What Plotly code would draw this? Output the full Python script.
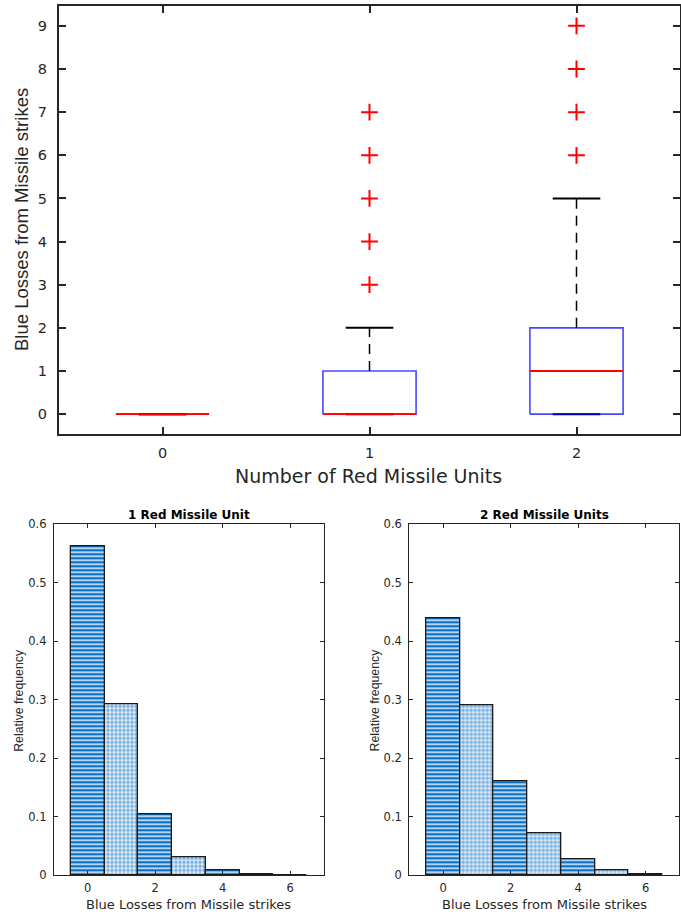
import plotly.graph_objects as go

# ---------------- data ----------------
groups = [0, 1, 2]
q1 = [0, 0, 0]
medians = [0, 0, 1]
q3 = [0, 1, 2]
lower_whisker = [0, 0, 0]
upper_whisker = [0, 2, 5]
outliers = {1: [3, 4, 5, 6, 7], 2: [6, 7, 8, 9]}

loss_bins = [0, 1, 2, 3, 4, 5, 6]
freq_1unit = [0.562, 0.293, 0.104, 0.030, 0.0085, 0.002, 0.0005]
freq_2units = [0.440, 0.290, 0.160, 0.071, 0.0267, 0.0085, 0.0022]

top_y_ticks = list(range(0, 10))
hist_x_ticks = [0, 2, 4, 6]
hist_y_ticks = [0, 0.1, 0.2, 0.3, 0.4, 0.5, 0.6]

# ---------------- style ----------------
W, H = 681, 915
BOX_W = 0.45
CAP_W = 0.23
AX = "#262626"
HFONT = "DejaVu Sans"
VFONT = "Liberation Sans"

fig = go.Figure()

# ---- boxplot drawn from the statistics ----
for g, lo, a, m, b, hi in zip(groups, lower_whisker, q1, medians, q3, upper_whisker):
    if hi > b:
        fig.add_trace(go.Scatter(x=[g, g], y=[b, hi], mode="lines",
                                 line=dict(color="black", width=1.5, dash="10px,7px"),
                                 xaxis="x", yaxis="y", showlegend=False, hoverinfo="skip"))
    if lo < a:
        fig.add_trace(go.Scatter(x=[g, g], y=[lo, a], mode="lines",
                                 line=dict(color="black", width=1.5, dash="10px,7px"),
                                 xaxis="x", yaxis="y", showlegend=False, hoverinfo="skip"))
    for v in (lo, hi):
        fig.add_trace(go.Scatter(x=[g - CAP_W / 2, g + CAP_W / 2], y=[v, v], mode="lines",
                                 line=dict(color="black", width=2),
                                 xaxis="x", yaxis="y", showlegend=False, hoverinfo="skip"))
    fig.add_trace(go.Scatter(x=[g - BOX_W / 2, g + BOX_W / 2, g + BOX_W / 2, g - BOX_W / 2, g - BOX_W / 2],
                             y=[a, a, b, b, a], mode="lines",
                             line=dict(color="rgba(0,0,255,0.72)", width=1.6),
                             xaxis="x", yaxis="y", showlegend=False, hoverinfo="skip"))
    fig.add_trace(go.Scatter(x=[g - BOX_W / 2, g + BOX_W / 2], y=[m, m], mode="lines",
                             line=dict(color="#ff0000", width=1.8),
                             xaxis="x", yaxis="y", showlegend=False, hoverinfo="skip"))

for g, vals in outliers.items():
    fig.add_trace(go.Scatter(x=[g] * len(vals), y=vals, mode="markers",
                             marker=dict(symbol="cross-thin", size=12,
                                         line=dict(color="#ff0000", width=2)),
                             xaxis="x", yaxis="y", showlegend=False, hoverinfo="skip"))

# ---- histograms ----
shapes = ["-" if i % 2 == 0 else "." for i in range(len(loss_bins))]
fgc = ["#0a6fc2" if i % 2 == 0 else "#6eaade" for i in range(len(loss_bins))]
bgc = ["#b3d4f0" if i % 2 == 0 else "#dbe9f6" for i in range(len(loss_bins))]

for freqs, xa, ya in [(freq_1unit, "x2", "y2"), (freq_2units, "x3", "y3")]:
    fig.add_trace(go.Bar(x=loss_bins, y=freqs, width=1.0,
                         marker=dict(color="#b3d4f0",
                                     line=dict(color="#1a1a1a", width=1.3),
                                     pattern=dict(shape=shapes, fgcolor=fgc, bgcolor=bgc,
                                                  size=4, solidity=0.5, fillmode="replace")),
                         xaxis=xa, yaxis=ya, showlegend=False, hoverinfo="skip"))

# ---------------- axes ----------------
def px_x(v):
    return v / W

def px_y(v):
    return 1 - v / H

common = dict(showline=True, linecolor=AX, mirror="ticks", ticks="inside",
              tickcolor=AX, showgrid=False, zeroline=False, automargin=False,
              tickfont=dict(family=HFONT, color=AX))

top_x = dict(common, domain=[px_x(59), px_x(680)], range=[-0.5, 2.5],
             tickvals=groups, linewidth=2, tickwidth=2, ticklen=7,
             anchor="y", ticklabelstandoff=5)
top_x["tickfont"] = dict(family=HFONT, color=AX, size=14.5)
top_y = dict(common, domain=[px_y(434), px_y(6)], range=[-0.46, 9.46],
             tickvals=top_y_ticks, linewidth=2, tickwidth=2, ticklen=7,
             anchor="x", ticklabelstandoff=7)
top_y["tickfont"] = dict(family=HFONT, color=AX, size=14.5)

def hist_axes(x0, x1):
    xa = dict(common, domain=[px_x(x0), px_x(x1)], range=[-1, 7], tickvals=hist_x_ticks,
              linewidth=1.2, tickwidth=1.2, ticklen=4, ticklabelstandoff=2)
    xa["tickfont"] = dict(family=HFONT, color=AX, size=11.5)
    ya = dict(common, domain=[px_y(875.3), px_y(524.3)], range=[0, 0.6], tickvals=hist_y_ticks,
              ticktext=["0", "0.1", "0.2", "0.3", "0.4", "0.5", "0.6"],
              linewidth=1.2, tickwidth=1.2, ticklen=4, ticklabelstandoff=4)
    ya["tickfont"] = dict(family=HFONT, color=AX, size=11.5)
    return xa, ya

x2, y2 = hist_axes(54, 324)
x3, y3 = hist_axes(409.3, 679.3)
x2["anchor"], y2["anchor"] = "y2", "x2"
x3["anchor"], y3["anchor"] = "y3", "x3"

annotations = [
    dict(text="Blue Losses from Missile strikes", x=px_x(21), y=px_y(220), textangle=-90,
         font=dict(family=VFONT, size=18.5, color=AX)),
    dict(text="Number of Red Missile Units", x=px_x(368.5), y=px_y(476),
         font=dict(family=HFONT, size=19, color=AX)),
    dict(text="<b>1 Red Missile Unit</b>", x=px_x(188.8), y=px_y(515),
         font=dict(family=HFONT, size=12, color="black")),
    dict(text="<b>2 Red Missile Units</b>", x=px_x(544.3), y=px_y(515),
         font=dict(family=HFONT, size=12, color="black")),
    dict(text="Blue Losses from Missile strikes", x=px_x(188.7), y=px_y(904),
         font=dict(family=HFONT, size=13, color=AX)),
    dict(text="Blue Losses from Missile strikes", x=px_x(544.3), y=px_y(904),
         font=dict(family=HFONT, size=13, color=AX)),
    dict(text="Relative frequency", x=px_x(19), y=px_y(700.8), textangle=-90,
         font=dict(family=VFONT, size=12.3, color=AX)),
    dict(text="Relative frequency", x=px_x(374.5), y=px_y(700), textangle=-90,
         font=dict(family=VFONT, size=12.3, color=AX)),
]
for a in annotations:
    a.update(xref="paper", yref="paper", showarrow=False, xanchor="center", yanchor="middle")

fig.update_layout(
    width=W, height=H, margin=dict(l=0, r=0, t=0, b=0),
    paper_bgcolor="white", plot_bgcolor="white",
    xaxis=top_x, yaxis=top_y, xaxis2=x2, yaxis2=y2, xaxis3=x3, yaxis3=y3,
    annotations=annotations, showlegend=False, bargap=0,
)

fig.write_html("out.html", config={"displayModeBar": False})
